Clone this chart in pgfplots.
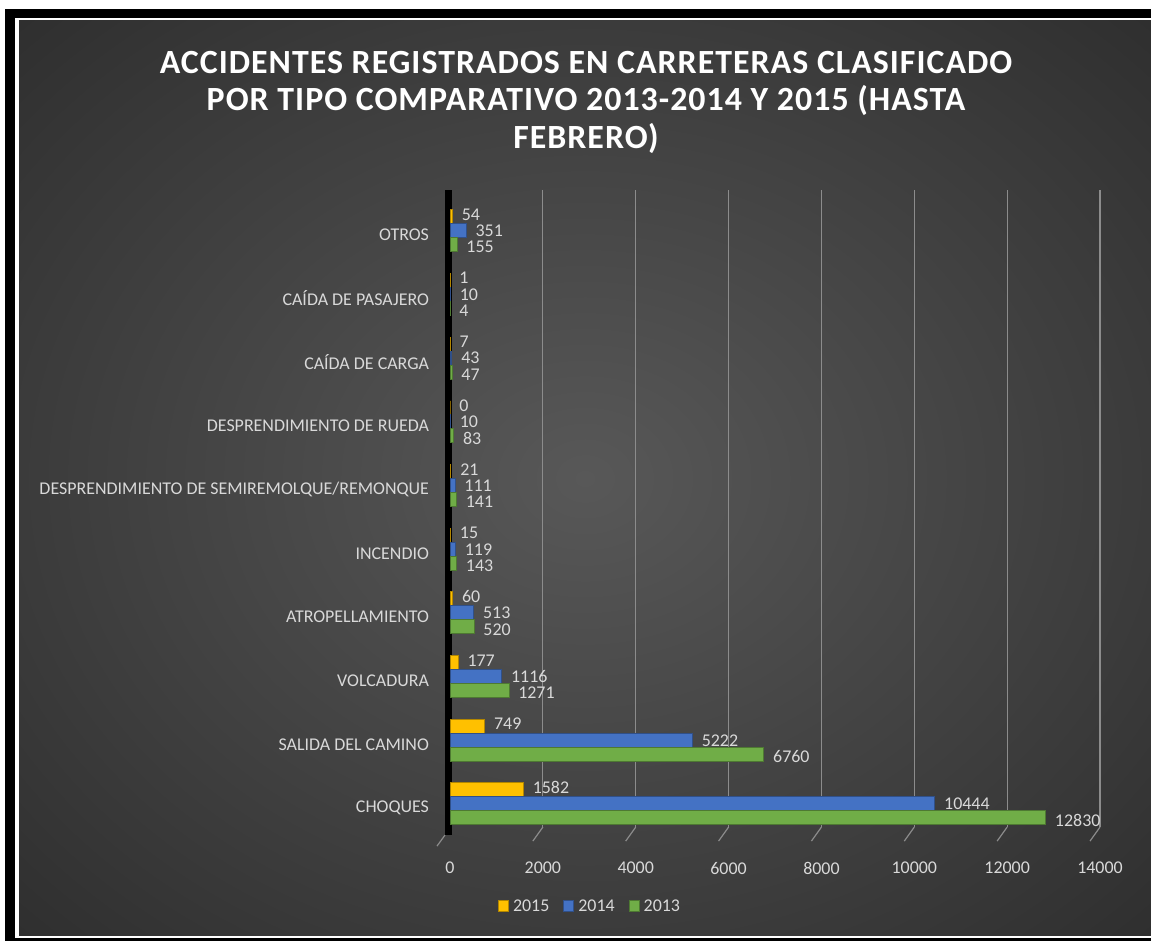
\documentclass[border=0pt]{standalone}
\usepackage{fontspec}
\setmainfont{Carlito}
\usepackage{pgfplots}
\pgfplotsset{compat=1.18}
\definecolor{c15}{HTML}{FFC000}
\definecolor{c14}{HTML}{4472C4}
\definecolor{c13}{HTML}{70AD47}
\definecolor{lbl}{HTML}{D9D9D9}
\definecolor{bgin}{RGB}{88,88,88}
\definecolor{bgout}{RGB}{30,30,30}
\definecolor{gridc}{HTML}{8C8C8C}
\pgfdeclareradialshading{bgshade}{\pgfpoint{0bp}{0bp}}{color(0bp)=(bgin); color(50bp)=(bgout)}
\pgfplotsset{/pgf/number format/.cd, fixed, precision=0, 1000 sep={}, assume math mode=true}
\begin{document}
\begin{tikzpicture}
\fill[white] (0bp,0bp) rectangle (575.5bp,472bp);
\fill[black] (2.5bp,1.5bp) rectangle (575.5bp,467.5bp);
\fill[white] (7.5bp,3.2bp) rectangle (575.5bp,463bp);
\shade[shading=bgshade] (9.5bp,4bp) rectangle (575.5bp,461.5bp);
\node[text=white, font=\bfseries\fontsize{17}{19}\selectfont\addfontfeature{LetterSpace=3}, align=center] at (293bp,420.8bp)
  {ACCIDENTES REGISTRADOS EN CARRETERAS CLASIFICADO\\POR TIPO COMPARATIVO 2013-2014 Y 2015 (HASTA\\FEBRERO)};
\begin{axis}[at={(225bp,58.45bp)}, anchor=south west, scale only axis,
  width=325bp, height=318.4bp,
  xbar, bar width=7bp,
  xmin=0, xmax=14000, ymin=-0.3, ymax=9.7,
  xtick={0,2000,4000,6000,8000,10000,12000,14000},
  ytick={0,1,2,3,4,5,6,7,8,9},
  yticklabels={CHOQUES, SALIDA DEL CAMINO, VOLCADURA, ATROPELLAMIENTO, INCENDIO,
    DESPRENDIMIENTO DE SEMIREMOLQUE/REMONQUE, DESPRENDIMIENTO DE RUEDA,
    CAÍDA DE CARGA, CAÍDA DE PASAJERO, OTROS},
  scaled x ticks=false,
  axis line style={draw=none}, major tick length=0pt,
  xmajorgrids, grid style={gridc, line width=0.6bp},
  ticklabel style={text=lbl, font=\fontsize{9}{11}\selectfont},
  x tick label style={yshift=-14bp},
  y tick label style={xshift=-7bp},
  clip=false,
  nodes near coords, point meta=x,
  nodes near coords style={anchor=west, text=lbl, font=\fontsize{9}{11}\selectfont, xshift=4bp, inner sep=0.4bp},
  legend columns=3,
  legend style={at={(0.217,-0.126)}, anchor=center, draw=none, fill=none, text=lbl,
    font=\fontsize{9}{11}\selectfont, /tikz/every even column/.append style={column sep=5bp}},
  legend image code/.code={\fill[#1] (0bp,-2bp) rectangle (5bp,3.5bp);},
]
\fill[black] ([xshift=-2.5bp,yshift=-4bp]axis cs:0,-0.3) rectangle ([xshift=1bp]axis cs:0,9.7);
\foreach \t in {2000,4000,6000,8000,10000,12000,14000}{
  \edef\tmp{\noexpand\draw[gridc, line width=0.6bp] (axis cs:\t,-0.3) -- ++(-5bp,-7bp);}\tmp
}
\draw[gridc, line width=0.6bp] ([xshift=-2.5bp,yshift=-4bp]axis cs:0,-0.3) -- ++(-4bp,-5.5bp);
\addplot[fill=c15, draw=c15!70!black, line width=0.5bp, bar shift=9bp,
  every node near coord/.append style={yshift=1.2bp}] coordinates {
(1582,0) (749,1) (177,2) (60,3) (15,4) (21,5) (0,6) (7,7) (1,8) (54,9)};
\addplot[fill=c14, draw=c14!70!black, line width=0.5bp, bar shift=2bp] coordinates {
(10444,0) (5222,1) (1116,2) (513,3) (119,4) (111,5) (10,6) (43,7) (10,8) (351,9)};
\addplot[fill=c13, draw=c13!70!black, line width=0.5bp, bar shift=-5bp,
  every node near coord/.append style={yshift=-1.2bp}] coordinates {
(12830,0) (6760,1) (1271,2) (520,3) (143,4) (141,5) (83,6) (47,7) (4,8) (155,9)};
\legend{2015,2014,2013}
\end{axis}
\end{tikzpicture}
\end{document}
